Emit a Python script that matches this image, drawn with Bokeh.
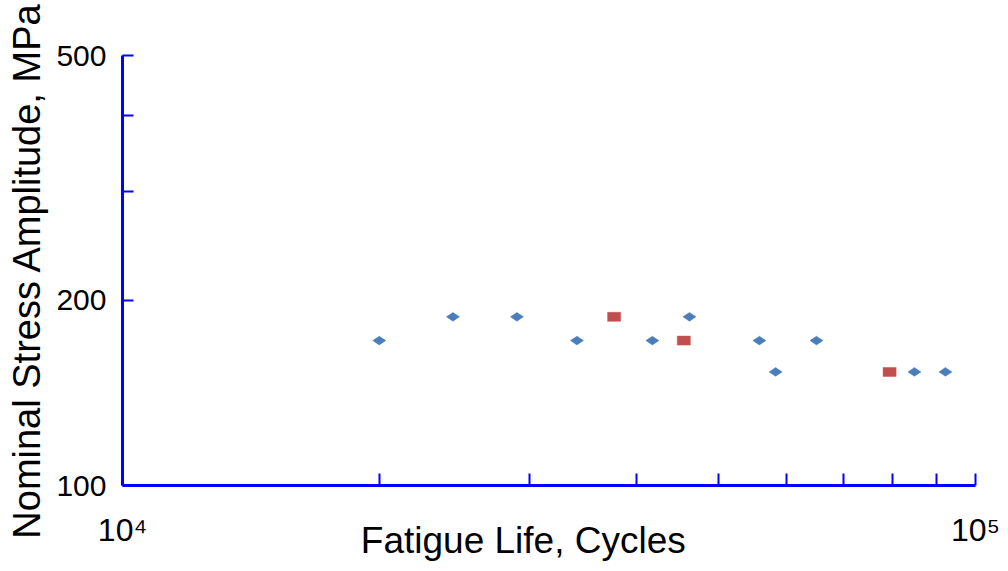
import math
from bokeh.plotting import figure
from bokeh.models import FixedTicker
from bokeh.embed import file_html
from bokeh.resources import INLINE

# ---- data ----
cycles_blue = [20000, 24400, 29000, 34100, 41800, 46200, 55800, 58300, 65100, 84800, 92200]
stress_blue = [172, 188, 188, 172, 172, 188, 172, 153, 172, 153, 153]
cycles_red = [37700, 45500, 79300]
stress_red = [188, 172, 153]

x_ticks = [10000, 20000, 30000, 40000, 50000, 60000, 70000, 80000, 90000, 100000]
x_tick_labels = {10000: "10\u2074", 100000: "10\u2075"}
y_ticks = [100, 200, 300, 400, 500]
y_tick_labels = {100: "100", 200: "200", 500: "500"}

FONT = "Liberation Sans"
AXIS_BLUE = "#0000FF"

p = figure(width=1000, height=563, x_axis_type="log", y_axis_type="log",
           x_range=(1e4, 1e5), y_range=(100, 500),
           output_backend="svg", toolbar_location=None,
           min_border_left=122, min_border_right=25,
           min_border_top=55, min_border_bottom=78)
p.outline_line_color = None
p.grid.visible = False
p.background_fill_color = "white"

# markers
p.scatter(cycles_blue, stress_blue, marker="diamond", size=13, angle=math.pi / 2,
          fill_color="#4A7EBB", line_color="#4A7EBB", line_width=0.5)
p.rect(cycles_red, stress_red, width=13, height=9, width_units="screen",
       height_units="screen", fill_color="#C0504D", line_color="#C0504D", line_width=0.5)

# x axis
xa = p.xaxis[0]
xa.ticker = FixedTicker(ticks=x_ticks, minor_ticks=[])
xa.major_label_overrides = {t: x_tick_labels.get(t, "") for t in x_ticks}
xa.axis_line_color = AXIS_BLUE
xa.axis_line_width = 3
xa.major_tick_line_color = AXIS_BLUE
xa.major_tick_line_width = 2
xa.major_tick_in = 12
xa.major_tick_out = 0
xa.minor_tick_line_color = None
xa.major_label_text_font = FONT
xa.major_label_text_font_size = "32px"
xa.major_label_text_color = "black"
xa.major_label_standoff = 26
# trailing no-break spaces shift the centred title left, as in the reference
xa.axis_label = "Fatigue Life, Cycles" + "\u00a0" * 5
xa.axis_label_text_font = FONT
xa.axis_label_text_font_size = "37px"
xa.axis_label_text_font_style = "normal"
xa.axis_label_text_color = "black"
xa.axis_label_standoff = -31

# y axis
ya = p.yaxis[0]
ya.ticker = FixedTicker(ticks=y_ticks, minor_ticks=[])
ya.major_label_overrides = {t: y_tick_labels.get(t, "") for t in y_ticks}
ya.axis_line_color = AXIS_BLUE
ya.axis_line_width = 3
ya.major_tick_line_color = AXIS_BLUE
ya.major_tick_line_width = 2
ya.major_tick_in = 11
ya.major_tick_out = 0
ya.minor_tick_line_color = None
ya.major_label_text_font = FONT
ya.major_label_text_font_size = "30px"
ya.major_label_text_color = "black"
ya.major_label_standoff = 16
ya.axis_label = "Nominal Stress Amplitude, MPa"
ya.axis_label_text_font = FONT
ya.axis_label_text_font_size = "38px"
ya.axis_label_text_font_style = "normal"
ya.axis_label_text_color = "black"
ya.axis_label_standoff = 5

open("out.html", "w").write(file_html(p, INLINE))
